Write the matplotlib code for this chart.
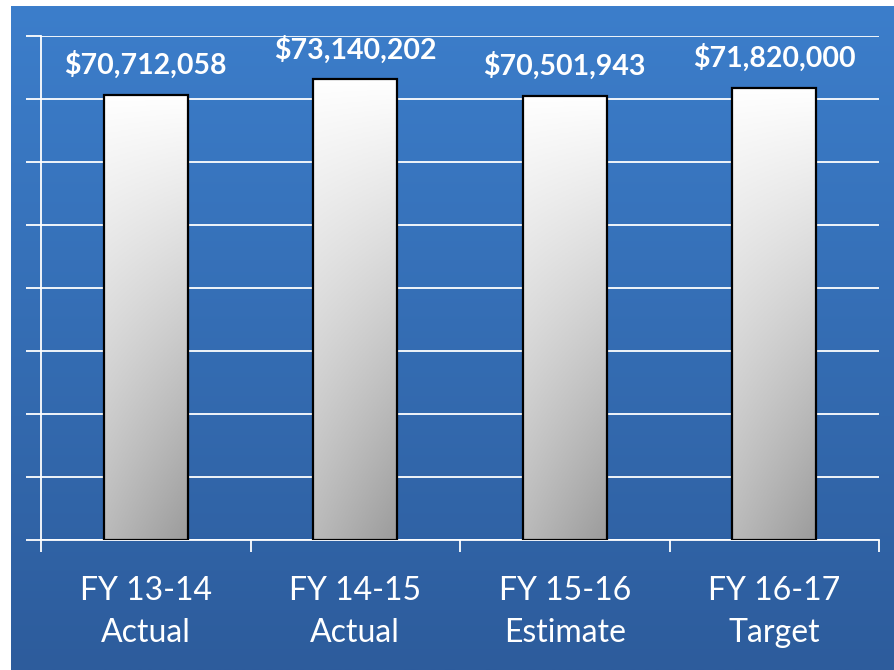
import matplotlib.pyplot as plt
import numpy as np

# chart data
categories = ["FY 13-14\nActual", "FY 14-15\nActual", "FY 15-16\nEstimate", "FY 16-17\nTarget"]
values = [70712058, 73140202, 70501943, 71820000]
value_labels = ["$70,712,058", "$73,140,202", "$70,501,943", "$71,820,000"]

W, H = 894, 670
fig = plt.figure(figsize=(W / 100, H / 100), dpi=100, facecolor="white")

# blue panel behind the chart, darker towards the bottom
bg = fig.add_axes([11 / W, 0, 1 - 11 / W, 664 / H])
bg.axis("off")
t = np.linspace(0, 1, 256)[:, None, None]
top_col = np.array([60, 126, 203]) / 255
bot_col = np.array([45, 92, 156]) / 255
bg.imshow(top_col + (bot_col - top_col) * t, aspect="auto", extent=[0, 1, 0, 1])

# plot area
ax = fig.add_axes([41 / W, 130 / H, 838 / W, 504 / H])
ax.set_facecolor("none")
x = np.arange(len(categories))

bars = ax.bar(x, values, width=0.4, facecolor="none", edgecolor="black", linewidth=1.6, zorder=3)

# white -> grey gradient inside each bar
ty = np.linspace(0, 1, 200)[:, None]
tx = np.linspace(0, 1, 60)[None, :]
shade = 1.0 - ty * (0.27 + 0.12 * tx)
shade = np.dstack([shade, shade, shade])
for b in bars:
    bx, by = b.get_x(), b.get_y()
    im = ax.imshow(shade, aspect="auto", zorder=2.5,
                   extent=[bx, bx + b.get_width(), by, by + b.get_height()])
    im.set_clip_path(b)

ax.set_xlim(-0.5, len(categories) - 0.5)
ax.set_ylim(0, 80e6)

# value labels above the bars
for xi, v, lbl in zip(x, values, value_labels):
    ax.annotate(lbl, (xi, v), xytext=(0, 21.5), textcoords="offset points",
                ha="center", va="center", color="white", fontsize=20.5,
                fontweight="bold", family="Lato")

# gridlines and axes
ax.set_yticks(np.arange(0, 80e6 + 1, 10e6))
ax.set_yticklabels([])
ax.yaxis.grid(True, color="white", linewidth=1.3)
ax.set_axisbelow(True)
ax.tick_params(axis="y", length=10.8, width=1.3, color="white", direction="out")

ax.set_xticks(x)
ax.set_xticklabels(categories, color="white", fontsize=23, family="Lato", linespacing=1.5)
ax.tick_params(axis="x", which="major", length=0, pad=26)
ax.set_xticks(np.arange(-0.5, len(categories)), minor=True)
ax.tick_params(axis="x", which="minor", length=8.6, width=1.3, color="white", direction="out")

for s in ["top", "right"]:
    ax.spines[s].set_visible(False)
for s in ["left", "bottom"]:
    ax.spines[s].set_color("white")
    ax.spines[s].set_linewidth(1.3)

fig.savefig("out.png", dpi=100, facecolor="white")
